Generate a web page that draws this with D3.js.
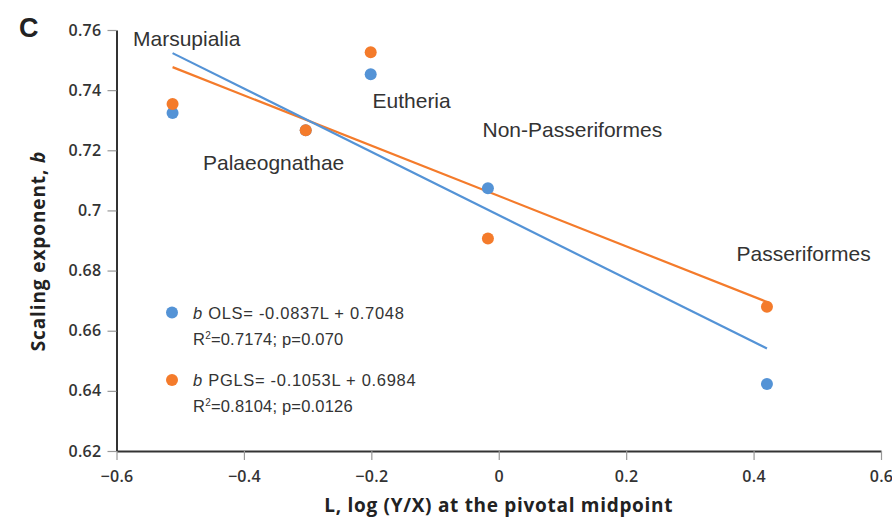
<!DOCTYPE html>
<html>
<head>
<meta charset="utf-8">
<script src="https://cdn.jsdelivr.net/npm/d3@7"></script>
<style>
  html, body { margin: 0; padding: 0; background: #fff; }
  svg { display: block; }
</style>
</head>
<body>
<svg id="chart" width="892" height="518"></svg>
<script>
// Clades and their pivotal-midpoint log ratio L
const clades = ["Marsupialia", "Palaeognathae", "Eutheria", "Non-Passeriformes", "Passeriformes"];
const L = [-0.512, -0.303, -0.201, -0.017, 0.421];

// Scaling exponent b per clade
const bOLS  = [0.7324, 0.7267, 0.7453, 0.7074, 0.6423];
const bPGLS = [0.7354, 0.7267, 0.7526, 0.6907, 0.6680];

// Fitted regression lines (slope, intercept)
const fitOLS  = { slope: -0.0837, intercept: 0.7048 };
const fitPGLS = { slope: -0.1053, intercept: 0.6984 };

// Axis ticks
const xTicks = [-0.6, -0.4, -0.2, 0, 0.2, 0.4, 0.6];
const xTickLabels = ["\u22120.6", "\u22120.4", "\u22120.2", "0", "0.2", "0.4", "0.6"];
const yTicks = [0.62, 0.64, 0.66, 0.68, 0.70, 0.72, 0.74, 0.76];
const yTickLabels = ["0.62", "0.64", "0.66", "0.68", "0.7", "0.72", "0.74", "0.76"];

const BLUE = "#5493d6";
const ORANGE = "#f47b2b";
const TEXT = "#333";

const svg = d3.select("#chart");

const x = d3.scaleLinear().domain([-0.6, 0.6]).range([116.5, 881]);
const y = d3.scaleLinear().domain([0.62, 0.76]).range([451, 30]);

function styleTicks(g) {
  g.select(".domain").attr("stroke", "#333").attr("stroke-width", 2);
  g.selectAll(".tick line").attr("stroke", "#999").attr("stroke-width", 1.2);
  g.selectAll(".tick text")
    .attr("fill", TEXT)
    .style("font-family", "'Open Sans', sans-serif")
    .style("font-size", "16px")
    .style("font-weight", 600)
    .style("letter-spacing", "0.3px");
}

// Y axis
const yAxis = d3.axisLeft(y)
  .tickValues(yTicks)
  .tickFormat((d, i) => yTickLabels[i])
  .tickSize(9).tickSizeOuter(0).tickPadding(6);
svg.append("g").attr("transform", `translate(${x(-0.6)},0)`).call(yAxis).call(styleTicks);

// X axis
const xAxis = d3.axisBottom(x)
  .tickValues(xTicks)
  .tickFormat((d, i) => xTickLabels[i])
  .tickSize(9).tickSizeOuter(0).tickPadding(11);
svg.append("g").attr("transform", `translate(0,${y(0.62)})`).call(xAxis).call(styleTicks);

// Regression lines across the range of L
const xMin = d3.min(L), xMax = d3.max(L);
function fitLine(fit, color) {
  svg.append("line")
    .attr("x1", x(xMin)).attr("y1", y(fit.slope * xMin + fit.intercept))
    .attr("x2", x(xMax)).attr("y2", y(fit.slope * xMax + fit.intercept))
    .attr("stroke", color).attr("stroke-width", 2.2);
}
fitLine(fitOLS, ORANGE);
fitLine(fitPGLS, BLUE);

// Points: OLS underneath, PGLS on top
svg.append("g").selectAll("circle").data(L).join("circle")
  .attr("cx", d => x(d)).attr("cy", (d, i) => y(bOLS[i]))
  .attr("r", 6).attr("fill", BLUE);
svg.append("g").selectAll("circle").data(L).join("circle")
  .attr("cx", d => x(d)).attr("cy", (d, i) => y(bPGLS[i]))
  .attr("r", 6).attr("fill", ORANGE);

// Clade labels
const labelPos = [
  { x: 133, y: 46 },
  { x: 203, y: 170 },
  { x: 372.5, y: 108 },
  { x: 482.5, y: 137 },
  { x: 736.5, y: 261 }
];
svg.append("g").selectAll("text").data(clades).join("text")
  .attr("x", (d, i) => labelPos[i].x)
  .attr("y", (d, i) => labelPos[i].y)
  .attr("fill", TEXT)
  .style("font-family", "'Liberation Sans', Arial, sans-serif")
  .style("font-size", "21px")
  .text(d => d);

// Legend with fit statistics
const legend = [
  { color: BLUE, eq: " OLS= -0.0837L + 0.7048", r2: "0.7174", p: "0.070", cy: 312.5, base: 318.5 },
  { color: ORANGE, eq: " PGLS= -0.1053L + 0.6984", r2: "0.8104", p: "0.0126", cy: 380, base: 385.5 }
];
const lg = svg.append("g")
  .style("font-family", "'Liberation Sans', Arial, sans-serif")
  .style("font-size", "16.5px")
  .attr("fill", TEXT);
legend.forEach(e => {
  lg.append("circle").attr("cx", 172).attr("cy", e.cy).attr("r", 6).attr("fill", e.color);
  const t1 = lg.append("text").attr("x", 193).attr("y", e.base).style("letter-spacing", "0.7px");
  t1.append("tspan").style("font-style", "italic").text("b");
  t1.append("tspan").text(e.eq);
  const t2 = lg.append("text").attr("x", 193).attr("y", e.base + 26.5).style("letter-spacing", "0.2px");
  t2.append("tspan").text("R");
  t2.append("tspan").attr("dy", -6).style("font-size", "10px").text("2");
  t2.append("tspan").attr("dy", 6).text(`=${e.r2}; p=${e.p}`);
});

// Axis titles
svg.append("text")
  .attr("x", (x(-0.6) + x(0.6)) / 2).attr("y", 512)
  .attr("text-anchor", "middle")
  .attr("fill", "#222")
  .style("font-family", "'Open Sans', sans-serif")
  .style("font-size", "19px")
  .style("font-weight", 700)
  .style("letter-spacing", "0.7px")
  .text("L, log (Y/X) at the pivotal midpoint");

const yt = svg.append("text")
  .attr("transform", "translate(45,251) rotate(-90)")
  .attr("text-anchor", "middle")
  .attr("fill", "#222")
  .style("font-family", "'Open Sans', sans-serif")
  .style("font-size", "19px")
  .style("font-weight", 700)
  .style("letter-spacing", "0.9px");
yt.append("tspan").text("Scaling exponent, ");
yt.append("tspan").style("font-style", "italic").text("b");

// Panel letter
svg.append("text")
  .attr("x", 19).attr("y", 37)
  .attr("fill", "#222")
  .style("font-family", "'Liberation Sans', Arial, sans-serif")
  .style("font-size", "27px")
  .style("font-weight", 700)
  .text("C");
</script>
</body>
</html>
